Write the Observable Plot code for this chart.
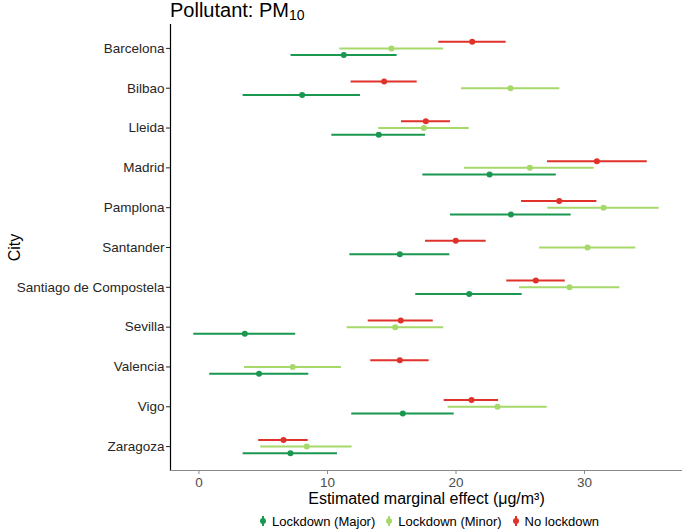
<!DOCTYPE html>
<html>
<head>
<meta charset="utf-8">
<script src="https://cdn.jsdelivr.net/npm/d3@7"></script>
<script src="https://cdn.jsdelivr.net/npm/@observablehq/plot@0.6"></script>
<style>
  html, body { margin: 0; padding: 0; background: #fff; }
  body { width: 682px; height: 530px; overflow: hidden; font-family: "Liberation Sans", Arial, sans-serif; }
  #title { height: 22px; line-height: 20px; font-size: 20px; padding-left: 170px; color: #000; white-space: nowrap; }
  #title sub { font-size: 14px; vertical-align: -3px; line-height: 0; }
  #legend { height: 22px; display: flex; justify-content: center; align-items: center; gap: 10px; font-size: 13px; color: #000; padding-left: 176px; padding-top: 4px; box-sizing: border-box; }
  #legend .item { display: flex; align-items: center; gap: 5px; }
  svg { display: block; }
</style>
</head>
<body>
<div id="title">Pollutant: PM<sub>10</sub></div>
<div id="chart"></div>
<div id="legend"></div>
<script>
const cities = ["Barcelona","Bilbao","Lleida","Madrid","Pamplona","Santander","Santiago de Compostela","Sevilla","Valencia","Vigo","Zaragoza"];
const groups = ["Lockdown (Major)","Lockdown (Minor)","No lockdown"];
const colors = ["#1a9850","#a6d96a","#e0312a"];

const majorEst = [11.27, 8.03, 13.99, 22.61, 24.27, 15.63, 21.03, 3.57, 4.68, 15.86, 7.12];
const majorLo  = [7.17, 3.44, 10.34, 17.42, 19.57, 11.74, 16.87, -0.4, 0.84, 11.89, 3.44];
const majorHi  = [15.42, 12.57, 17.63, 27.8, 28.96, 19.52, 25.15, 7.53, 8.55, 19.86, 10.78];

const minorEst = [14.98, 24.24, 17.5, 25.74, 31.48, 30.23, 28.83, 15.27, 7.3, 23.23, 8.39];
const minorLo  = [10.96, 20.43, 13.99, 20.66, 27.14, 26.5, 24.94, 11.53, 3.54, 19.39, 4.81];
const minorHi  = [19.03, 28.08, 21.03, 30.75, 35.81, 33.99, 32.75, 19.05, 11.09, 27.1, 11.92];

const noneEst = [21.26, 14.41, 17.65, 30.96, 28.03, 19.98, 26.21, 15.7, 15.63, 21.21, 6.58];
const noneLo  = [18.66, 11.84, 15.76, 27.12, 25.1, 17.63, 23.95, 13.17, 13.37, 19.08, 4.65];
const noneHi  = [23.9, 16.98, 19.57, 34.88, 30.96, 22.35, 28.5, 18.23, 17.91, 23.31, 8.5];

const xTicks = [0, 10, 20, 30];

const series = [
  {group: groups[0], est: majorEst, lo: majorLo, hi: majorHi, dy: 6.7},
  {group: groups[1], est: minorEst, lo: minorLo, hi: minorHi, dy: 0},
  {group: groups[2], est: noneEst, lo: noneLo, hi: noneHi, dy: -6.7}
];

const rows = s => cities.map((c, i) => ({city: c, group: s.group, est: s.est[i], lo: s.lo[i], hi: s.hi[i]}));

const all = series.flatMap(rows);
const xmin = d3.min(all, d => d.lo), xmax = d3.max(all, d => d.hi);
const pad = (xmax - xmin) * 0.05;
const xDomain = [xmin - pad, xmax + pad];

const marks = [];
for (const s of series) {
  const data = rows(s);
  marks.push(Plot.ruleY(data, {y: "city", x1: "lo", x2: "hi", stroke: "group", strokeWidth: 2, dy: s.dy}));
  marks.push(Plot.dot(data, {y: "city", x: "est", fill: "group", r: 3, dy: s.dy}));
}

const chart = Plot.plot({
  width: 682,
  height: 486,
  marginLeft: 170,
  marginRight: 0,
  marginTop: 2,
  marginBottom: 38,
  style: {fontFamily: "'Liberation Sans', Arial, sans-serif", fontSize: "13px", background: "#fff"},
  x: {domain: xDomain},
  y: {type: "point", domain: cities, padding: 0.6, round: false},
  color: {domain: groups, range: colors},
  marks: [
    Plot.frame({anchor: "left", stroke: "#000", strokeWidth: 1.2}),
    Plot.frame({anchor: "bottom", stroke: "#8a8a8a", strokeWidth: 1.2}),
    ...marks,
    Plot.axisY({tickSize: 4, tickPadding: 2, fontSize: 13.5, color: "#262626", label: "City", labelAnchor: "center", labelOffset: 162, labelArrow: "none"}),
    Plot.axisX({ticks: xTicks, tickSize: 4, tickPadding: 3, fontSize: 13.5, color: "#4d4d4d", stroke: "#8a8a8a", label: "Estimated marginal effect (μg/m³)", labelAnchor: "center", labelOffset: 33, labelArrow: "none"})
  ]
});
document.getElementById("chart").appendChild(chart);

d3.select(chart).selectAll("g[aria-label='y-axis label'] text, g[aria-label='x-axis label'] text")
  .style("font-size", "16px").attr("fill", "#000");

const legend = d3.select("#legend");
groups.forEach((g, i) => {
  const item = legend.append("div").attr("class", "item");
  const svg = item.append("svg").attr("width", 8).attr("height", 14);
  svg.append("line").attr("x1", 4).attr("x2", 4).attr("y1", 2).attr("y2", 12).attr("stroke", colors[i]).attr("stroke-width", 2);
  svg.append("circle").attr("cx", 4).attr("cy", 7).attr("r", 3).attr("fill", colors[i]);
  item.append("span").text(g);
});
</script>
</body>
</html>
